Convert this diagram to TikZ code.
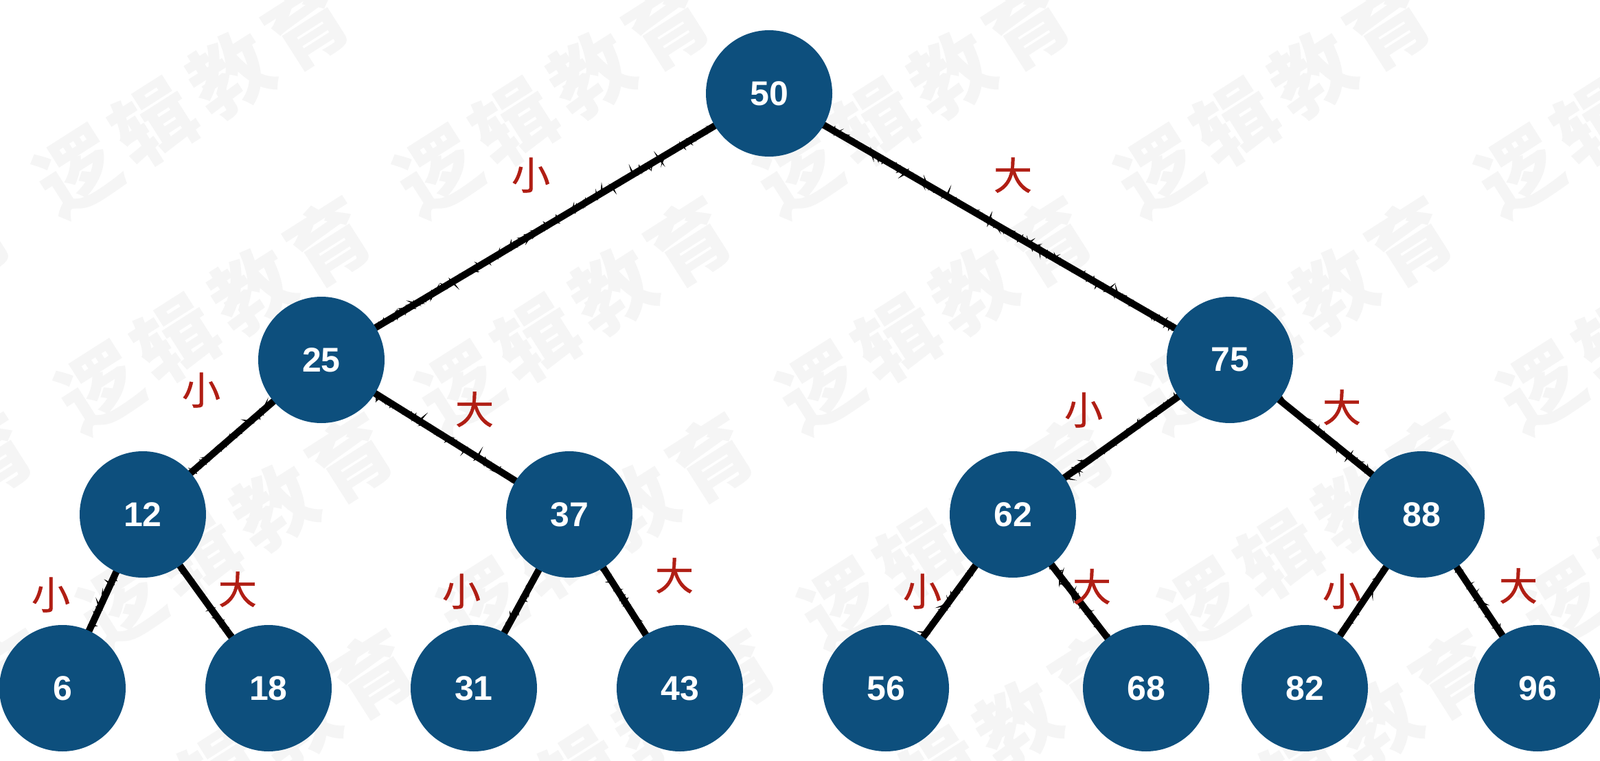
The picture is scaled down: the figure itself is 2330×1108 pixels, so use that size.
\documentclass[tikz,border=0pt]{standalone}
\usepackage{fontspec}
\setmainfont{Liberation Sans}
\newfontfamily\cjk{Noto Sans CJK SC}
\newfontfamily\cjklab[FakeBold=0.8]{Noto Sans CJK SC}
\usetikzlibrary{decorations.pathmorphing}
\definecolor{nodeblue}{HTML}{0D4F7D}
\definecolor{labred}{HTML}{B01E14}
\definecolor{wmgray}{HTML}{F5F5F5}
\pgfdeclarelayer{bg}
\pgfsetlayers{bg,main}
\begin{document}
\begin{tikzpicture}[x=1pt,y=-1pt,
  tnode/.style={circle, fill=nodeblue, minimum size=184pt, inner sep=0pt, text=white,
    font=\fontsize{50}{60}\selectfont\bfseries},
  edge/.style={line width=10pt, line cap=round, black,
    postaction={draw, line width=3pt, decorate,
      decoration={random steps, segment length=2pt, amplitude=3.5pt}},
    postaction={draw, line width=2pt, decorate,
      decoration={random steps, segment length=3pt, amplitude=4pt}}},
  lab/.style={text=labred, inner sep=0pt, font=\cjklab\fontsize{56}{60}\selectfont},
  wm/.style={text=wmgray, inner sep=0pt, rotate=32.5,
    font=\cjk\bfseries\fontsize{118}{130}\selectfont}]
\useasboundingbox (0,0) rectangle (2330,1108);
% tree nodes
\node[tnode] (n50) at (1120,136) {50};
\node[tnode] (n25) at (468,524) {25};
\node[tnode] (n75) at (1791,524) {75};
\node[tnode] (n12) at (208,749) {12};
\node[tnode] (n37) at (829,749) {37};
\node[tnode] (n62) at (1475,749) {62};
\node[tnode] (n88) at (2070,749) {88};
\node[tnode] (n6)  at (91,1002) {6};
\node[tnode] (n18) at (391,1002) {18};
\node[tnode] (n31) at (690,1002) {31};
\node[tnode] (n43) at (990,1002) {43};
\node[tnode] (n56) at (1290,1002) {56};
\node[tnode] (n68) at (1669,1002) {68};
\node[tnode] (n82) at (1900,1002) {82};
\node[tnode] (n96) at (2239,1002) {96};
% labels
\node[lab] (l1) at (773,255) {小};
\node[lab] (l2) at (1475,255) {大};
\node[lab] (l3) at (293,568) {小};
\node[lab] (l4) at (691,596) {大};
\node[lab] (l5) at (1578,597) {小};
\node[lab] (l6) at (1954,593) {大};
\node[lab] (l7) at (74,866) {小};
\node[lab] (l8) at (346,858) {大};
\node[lab] (l9) at (672,861) {小};
\node[lab] (l10) at (982,838) {大};
\node[lab] (l11) at (1343,861) {小};
\node[lab] (l12) at (1590,854) {大};
\node[lab] (l13) at (1954,861) {小};
\node[lab] (l14) at (2211,853) {大};
\begin{pgfonlayer}{bg}
  \begin{scope}
    \clip (0,0) rectangle (2330,1108);
    \foreach \i in {-1,...,4}{
      \foreach \j in {0,...,3}{
        \node[wm] (wm-\i-\j) at ({280+525*\i+32*\j},{143+315*\j})
          {逻\hspace{14pt}辑\hspace{14pt}教\hspace{14pt}育};
      }
    }
  \end{scope}
  \draw[edge] (n50) -- (n25);
  \draw[edge] (n50) -- (n75);
  \draw[edge] (n25) -- (n12);
  \draw[edge] (n25) -- (n37);
  \draw[edge] (n75) -- (n62);
  \draw[edge] (n75) -- (n88);
  \draw[edge] (n12) -- (n6);
  \draw[edge] (n12) -- (n18);
  \draw[edge] (n37) -- (n31);
  \draw[edge] (n37) -- (n43);
  \draw[edge] (n62) -- (n56);
  \draw[edge] (n62) -- (n68);
  \draw[edge] (n88) -- (n82);
  \draw[edge] (n88) -- (n96);
\end{pgfonlayer}
\end{tikzpicture}
\end{document}
